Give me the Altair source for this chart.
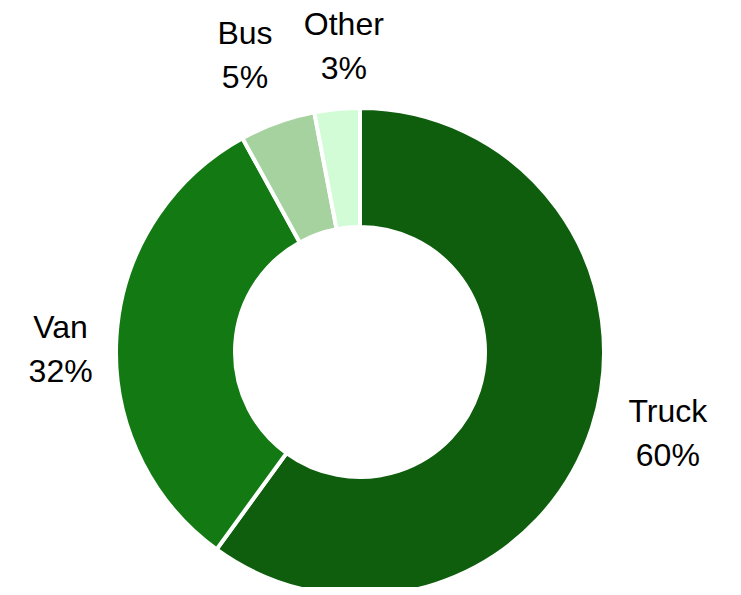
import altair as alt
import pandas as pd
import math

categories = ["Truck", "Van", "Bus", "Other"]
values = [60, 32, 5, 3]
labels = ["60%", "32%", "5%", "3%"]
colors = ["#0e5e0e", "#137a13", "#a6d2a0", "#d2fcd6"]

df = pd.DataFrame({"category": categories, "value": values, "pct": labels,
                   "order": list(range(len(categories)))})
df["label"] = [[c, p] for c, p in zip(categories, labels)]

CX, CY = 352, 344

arc = alt.Chart(df).mark_arc(innerRadius=125, outerRadius=244, stroke="white", strokeWidth=4).encode(
    theta=alt.Theta("value:Q", stack=True),
    order=alt.Order("order:Q"),
    color=alt.Color("category:N", scale=alt.Scale(domain=categories, range=colors), legend=None),
    x=alt.value(CX), y=alt.value(CY),
)

# per-label nudges (Excel-style best-fit outside placement)
nudges = {"Truck": (13, -36), "Van": (10, -5), "Bus": (-10, -26), "Other": (13, -18)}

text_base = alt.Chart(df).transform_joinaggregate(
    total="sum(value)"
).transform_window(
    cum="sum(value)", sort=[alt.SortField("order")], frame=[None, 0]
).transform_calculate(
    mid="(datum.cum - datum.value / 2) / datum.total"
)

layers = [arc]
for cat in categories:
    dx, dy = nudges[cat]
    layers.append(
        text_base.transform_filter(alt.datum.category == cat)
        .mark_text(radius=310, fontSize=32, font="Liberation Sans", color="black",
                   lineHeight=44, baseline="middle", align="center", dx=dx, dy=dy)
        .encode(
            theta=alt.Theta("mid:Q", stack=None,
                            scale=alt.Scale(domain=[0, 1], range=[0, 2 * math.pi])),
            text="label",
            x=alt.value(CX), y=alt.value(CY),
        )
    )

chart = alt.layer(*layers).resolve_scale(theta="independent").properties(
    width=725, height=579, padding=0, autosize=alt.AutoSizeParams(type="none")
).configure_view(stroke=None)

chart.save("out.html", embed_options={"renderer": "svg", "actions": False})
